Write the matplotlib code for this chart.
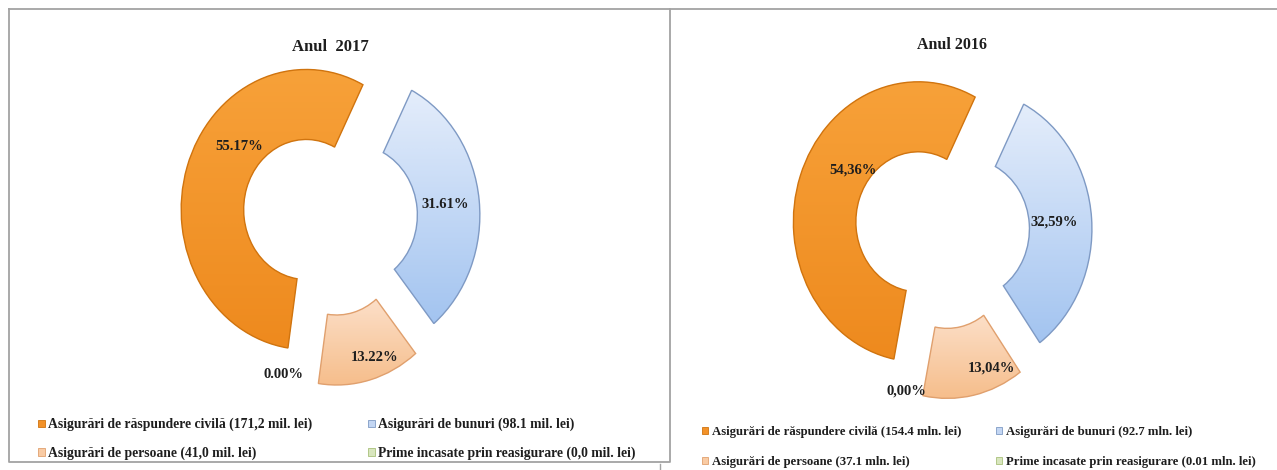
import matplotlib
matplotlib.use("Agg")
import matplotlib.pyplot as plt
from matplotlib.patches import PathPatch
from matplotlib.colors import LinearSegmentedColormap
import numpy as np

# ---------------- data ----------------
categories_2017 = [
    "Asigurări de răspundere civilă (171,2 mil. lei)",
    "Asigurări de bunuri (98.1 mil. lei)",
    "Asigurări de persoane (41,0 mil. lei)",
    "Prime incasate prin reasigurare (0,0 mil. lei)",
]
categories_2016 = [
    "Asigurări de răspundere civilă (154.4 mln. lei)",
    "Asigurări de bunuri (92.7 mln. lei)",
    "Asigurări de persoane (37.1 mln. lei)",
    "Prime incasate prin reasigurare (0.01 mln. lei)",
]
shares_2017 = [55.17, 31.61, 13.22, 0.00]
shares_2016 = [54.36, 32.59, 13.04, 0.00]
titles = ["Anul  2017", "Anul 2016"]

# ---------------- style ----------------
W, H = 1277, 470
FACE = ["#F39229", "#C3D6F3", "#F9CBA4", "#D8E6BE"]
GRAD = [("#F7A139", "#EE8A1E"), ("#E4EDFB", "#A3C4F0"),
        ("#FCDFC8", "#F6BE8C"), ("#E6EFD6", "#C9DBA6")]
EDGE = ["#D0740F", "#7F9AC4", "#E0A06E", "#A9C07A"]
SERIF = ["Liberation Serif", "DejaVu Serif"]
TXT = "#1E1E1E"

fig = plt.figure(figsize=(W / 100, H / 100), dpi=100)
fig.patch.set_facecolor("white")

# overlay for panel frames (pixel coordinates, y downwards)
ov = fig.add_axes([0, 0, 1, 1], zorder=0)
ov.set_xlim(0, W)
ov.set_ylim(H, 0)
ov.axis("off")
fc = "#A3A3A3"
ov.plot([8.5, 669.5, 669.5, 8.5, 8.5], [9, 9, 461.5, 461.5, 9], color=fc, lw=1.3)
ov.plot([669.5, W], [9, 9], color=fc, lw=1.3)
ov.plot([660, 660], [464, H], color=fc, lw=1.0)


def px_axes(cx, cy, rx, ry, half_w=180, half_h=185):
    l, r = cx - half_w, cx + half_w
    t, b = cy - half_h, cy + half_h
    ax = fig.add_axes([l / W, 1 - b / H, (r - l) / W, (b - t) / H], zorder=2)
    return ax, ((l - cx) / rx, (r - cx) / rx), ((cy - b) / ry, (cy - t) / ry)


def donut(cx, cy, shares, startangle, label_pos, comma):
    ax, xl, yl = px_axes(cx, cy, 125, 140)
    wedges, _ = ax.pie(
        shares,
        startangle=startangle,
        counterclock=False,
        radius=1.0,
        explode=[0.2] * len(shares),
        colors=FACE,
        wedgeprops=dict(width=0.5, linewidth=0),
        normalize=True,
    )
    grad = np.linspace(0, 1, 64).reshape(-1, 1)
    for w, (c0, c1), ec, v in zip(wedges, GRAD, EDGE, shares):
        if v == 0:
            continue
        cmap = LinearSegmentedColormap.from_list("g", [c0, c1])
        bb = w.get_path().get_extents()
        im = ax.imshow(grad, cmap=cmap, extent=(bb.x0, bb.x1, bb.y0, bb.y1),
                       origin="upper", aspect="auto", zorder=2,
                       interpolation="bilinear")
        im.set_clip_path(w)
        ax.add_patch(PathPatch(w.get_path(), fc="none", ec=ec, lw=1.0, zorder=3))
    ax.set_aspect("auto")
    ax.set_xlim(*xl)
    ax.set_ylim(*yl)
    ax.axis("off")
    for w, v, (dth, r) in zip(wedges, shares, label_pos):
        mid = np.deg2rad((w.theta1 + w.theta2) / 2 + dth)
        x = w.center[0] + r * np.cos(mid)
        y = w.center[1] + r * np.sin(mid)
        s = f"{v:.2f}%"
        if comma:
            s = s.replace(".", ",")
        ax.text(x, y, s, ha="center", va="center", fontsize=10.5,
                fontweight="bold", family=SERIF, color=TXT, zorder=5)
    return wedges


w17 = donut(330, 218, shares_2017, 261.6,
            [(-22, 0.70), (0, 0.73), (5, 0.86), (-12, 0.98)], comma=False)
w16 = donut(942, 231, shares_2016, 258.7,
            [(-16, 0.64), (0, 0.70), (12, 0.86), (-3, 0.98)], comma=True)

fig.text(330 / W, 1 - 47 / H, titles[0], ha="center", va="center",
         fontsize=12, fontweight="bold", family=SERIF, color=TXT)
fig.text(952 / W, 1 - 45 / H, titles[1], ha="center", va="center",
         fontsize=11.5, fontweight="bold", family=SERIF, color=TXT)


def legend_col(handles, labels, edges, x, y, spacing, size):
    lg = fig.legend(handles, labels, loc="upper left",
                    bbox_to_anchor=(x / W, 1 - y / H), frameon=False,
                    handlelength=0.5, handleheight=0.5, handletextpad=0.25,
                    labelspacing=spacing, borderpad=0, borderaxespad=0,
                    prop=dict(family=SERIF, weight="bold", size=size))
    for t in lg.get_texts():
        t.set_color(TXT)
    for h, ec in zip(lg.legend_handles, edges):
        h.set_edgecolor(ec)
        h.set_linewidth(0.6)
    return lg


legend_col([w17[0], w17[2]], [categories_2017[0], categories_2017[2]],
           [EDGE[0], EDGE[2]], 38, 418, 1.13, 9.8)
legend_col([w17[1], w17[3]], [categories_2017[1], categories_2017[3]],
           [EDGE[1], EDGE[3]], 368, 418, 1.13, 9.8)
legend_col([w16[0], w16[2]], [categories_2016[0], categories_2016[2]],
           [EDGE[0], EDGE[2]], 702, 426, 1.42, 9.2)
legend_col([w16[1], w16[3]], [categories_2016[1], categories_2016[3]],
           [EDGE[1], EDGE[3]], 996, 426, 1.42, 9.2)

fig.savefig("out.png", dpi=100, facecolor="white")
